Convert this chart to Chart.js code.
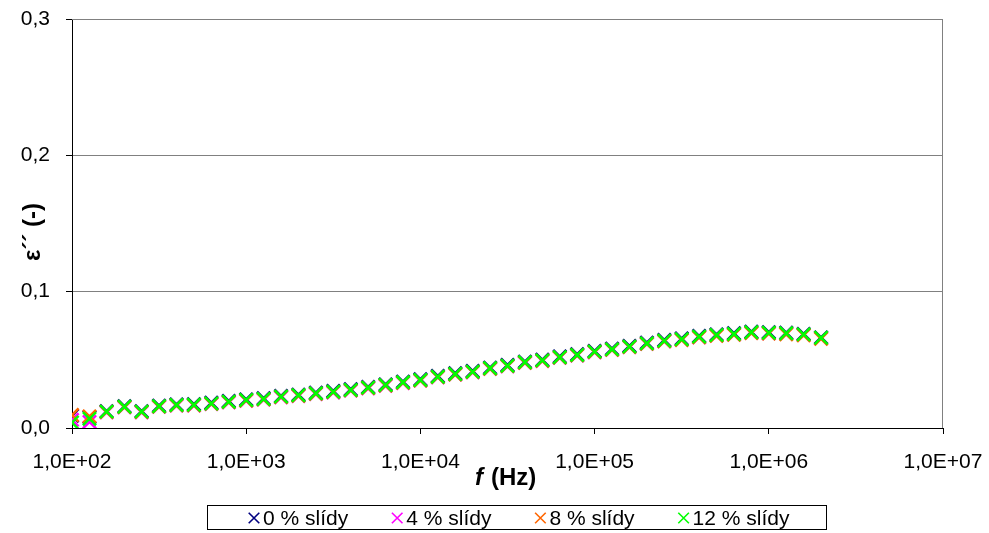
<!DOCTYPE html>
<html>
<head>
<meta charset="utf-8">
<script src="https://cdn.jsdelivr.net/npm/chart.js@4.4.0/dist/chart.umd.min.js"></script>
<style>
  body { margin: 0; background: #fff; }
  canvas { display: block; }
</style>
</head>
<body>
<canvas id="chart" width="989" height="533"></canvas>
<script>
// frequencies (Hz), 10 points per decade
const freq = [100, 126, 158, 200, 251, 316, 398, 501, 631, 794,
  1000, 1259, 1585, 1995, 2512, 3162, 3981, 5012, 6310, 7943,
  10000, 12589, 15849, 19953, 25119, 31623, 39811, 50119, 63096, 79433,
  100000, 125893, 158489, 199526, 251189, 316228, 398107, 501187, 630957, 794328,
  1000000, 1258925, 1584893, 1995262];

const mica0 = [0.0090, 0.0080, 0.0123, 0.0160, 0.0124, 0.0164, 0.0173, 0.0175, 0.0185, 0.0198,
  0.0210, 0.0218, 0.0235, 0.0245, 0.0259, 0.0271, 0.0284, 0.0301, 0.0320, 0.0340,
  0.0357, 0.0381, 0.0401, 0.0418, 0.0443, 0.0462, 0.0487, 0.0501, 0.0524, 0.0541,
  0.0565, 0.0582, 0.0602, 0.0626, 0.0645, 0.0656, 0.0675, 0.0687, 0.0695, 0.0706,
  0.0703, 0.0699, 0.0690, 0.0665];
const mica4 = [0.0060, 0.0045, 0.0115, 0.0151, 0.0115, 0.0155, 0.0164, 0.0165, 0.0175, 0.0188,
  0.0200, 0.0208, 0.0225, 0.0235, 0.0249, 0.0261, 0.0274, 0.0291, 0.0310, 0.0330,
  0.0348, 0.0372, 0.0392, 0.0409, 0.0434, 0.0453, 0.0478, 0.0492, 0.0515, 0.0532,
  0.0556, 0.0573, 0.0593, 0.0617, 0.0636, 0.0647, 0.0666, 0.0678, 0.0686, 0.0698,
  0.0695, 0.0691, 0.0683, 0.0658];
const mica8 = [0.0095, 0.0085, 0.0117, 0.0153, 0.0117, 0.0157, 0.0166, 0.0167, 0.0177, 0.0190,
  0.0202, 0.0210, 0.0227, 0.0237, 0.0251, 0.0263, 0.0276, 0.0293, 0.0312, 0.0332,
  0.0349, 0.0373, 0.0393, 0.0410, 0.0435, 0.0454, 0.0479, 0.0493, 0.0516, 0.0533,
  0.0557, 0.0574, 0.0594, 0.0617, 0.0636, 0.0646, 0.0665, 0.0676, 0.0684, 0.0696,
  0.0693, 0.0688, 0.0680, 0.0655];
const mica12 = [0.0040, 0.0068, 0.0120, 0.0156, 0.0120, 0.0160, 0.0169, 0.0170, 0.0180, 0.0193,
  0.0205, 0.0213, 0.0230, 0.0240, 0.0254, 0.0266, 0.0279, 0.0296, 0.0315, 0.0335,
  0.0352, 0.0376, 0.0396, 0.0413, 0.0438, 0.0457, 0.0482, 0.0496, 0.0519, 0.0536,
  0.0560, 0.0577, 0.0597, 0.0621, 0.0640, 0.0651, 0.0670, 0.0682, 0.0690, 0.0702,
  0.0699, 0.0695, 0.0687, 0.0662];

const seriesNames = ['0 % slídy', '4 % slídy', '8 % slídy', '12 % slídy'];
const seriesColors = ['#000080', '#ff00ff', '#ff6600', '#00ff00'];
const seriesValues = [mica0, mica4, mica8, mica12];

const xTickValues = [1e2, 1e3, 1e4, 1e5, 1e6, 1e7];
const xTickLabels = ['1,0E+02', '1,0E+03', '1,0E+04', '1,0E+05', '1,0E+06', '1,0E+07'];
const yTickValues = [0, 0.1, 0.2, 0.3];
const yTickLabels = ['0,0', '0,1', '0,2', '0,3'];

const fontFamily = '"Liberation Sans", Arial, sans-serif';

const datasets = seriesValues.map((vals, i) => ({
  label: seriesNames[i],
  data: vals.map((v, j) => ({ x: freq[j], y: v })),
  showLine: false,
  pointStyle: 'crossRot',
  pointRadius: 9.3,
  pointHoverRadius: 9.3,
  pointBorderWidth: 2.5,
  borderColor: seriesColors[i],
  backgroundColor: seriesColors[i],
  order: seriesValues.length - i   // later series drawn on top, like Excel
}));

// gray frame on top/right of the plot area
const framePlugin = {
  id: 'frame',
  beforeDatasetsDraw(chart) {
    const a = chart.chartArea;
    const ctx = chart.ctx;
    ctx.save();
    ctx.strokeStyle = '#808080';
    ctx.lineWidth = 1;
    ctx.beginPath();
    ctx.moveTo(a.left, a.top + 0.5);
    ctx.lineTo(a.right - 0.5, a.top + 0.5);
    ctx.lineTo(a.right - 0.5, a.bottom);
    ctx.stroke();
    ctx.restore();
  }
};

// axis titles and boxed legend
const extrasPlugin = {
  id: 'extras',
  afterDraw(chart) {
    const ctx = chart.ctx;
    ctx.save();
    ctx.fillStyle = '#000';
    ctx.textBaseline = 'middle';

    // y title
    ctx.save();
    ctx.translate(33, 232);
    ctx.rotate(-Math.PI / 2);
    ctx.font = 'bold 24px ' + fontFamily;
    ctx.textAlign = 'center';
    ctx.fillText('ε´´ (-)', 0, 0);
    ctx.restore();

    // x title
    ctx.textAlign = 'left';
    ctx.font = 'italic bold 24px ' + fontFamily;
    ctx.fillText('f', 475, 478);
    ctx.font = 'bold 24px ' + fontFamily;
    ctx.fillText('(Hz)', 491, 478);

    // legend
    ctx.strokeStyle = '#000';
    ctx.lineWidth = 1;
    ctx.strokeRect(207.5, 505.5, 619, 24);
    ctx.font = '21px ' + fontFamily;
    let x = 254;
    chart.data.datasets.forEach(ds => {
      ctx.strokeStyle = ds.borderColor;
      ctx.fillStyle = ds.borderColor;
      ctx.lineWidth = 1.6;
      Chart.helpers.drawPoint(ctx, { pointStyle: 'crossRot', radius: 7.5, rotation: 0, borderWidth: 1.6 }, x, 518);
      ctx.fillStyle = '#000';
      ctx.fillText(ds.label, x + 9, 519);
      x += 9 + ctx.measureText(ds.label).width + 49;
    });
    ctx.restore();
  }
};

new Chart(document.getElementById('chart'), {
  type: 'scatter',
  data: { datasets },
  plugins: [framePlugin, extrasPlugin],
  options: {
    responsive: false,
    animation: false,
    layout: { padding: { top: 19, right: 46, left: 0, bottom: 0 } },
    plugins: {
      legend: { display: false },
      tooltip: { enabled: false }
    },
    scales: {
      x: {
        type: 'logarithmic',
        position: 'bottom',
        min: 100,
        max: 1e7,
        afterBuildTicks: s => { s.ticks = xTickValues.map(v => ({ value: v })); },
        afterFit: s => { s.height = 105; s.paddingLeft = 0; s.paddingRight = 0; },
        grid: { drawOnChartArea: false, tickLength: 6, tickColor: '#000' },
        border: { color: '#000', width: 1 },
        ticks: {
          color: '#000',
          font: { family: fontFamily, size: 21 },
          padding: 16,
          maxRotation: 0,
          autoSkip: false,
          callback: (v, i) => xTickLabels[i]
        }
      },
      y: {
        min: 0,
        max: 0.3,
        afterBuildTicks: s => { s.ticks = yTickValues.map(v => ({ value: v })); },
        afterFit: s => { s.width = 72; s.paddingTop = 0; s.paddingBottom = 0; },
        grid: { color: '#808080', tickLength: 6, tickColor: '#000' },
        border: { color: '#000', width: 1 },
        ticks: {
          color: '#000',
          font: { family: fontFamily, size: 21 },
          padding: 16,
          callback: (v, i) => yTickLabels[i]
        }
      }
    }
  }
});
</script>
</body>
</html>
